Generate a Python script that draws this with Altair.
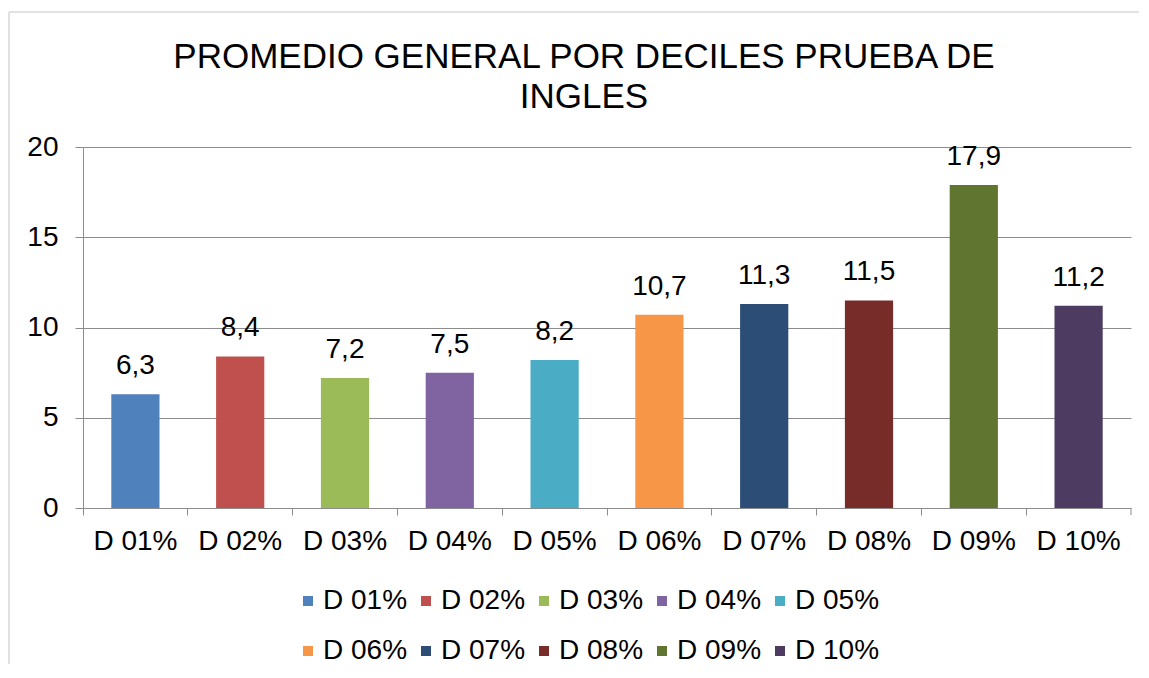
import altair as alt
import pandas as pd

categories = ["D 01%", "D 02%", "D 03%", "D 04%", "D 05%",
              "D 06%", "D 07%", "D 08%", "D 09%", "D 10%"]
values = [6.3, 8.4, 7.2, 7.5, 8.2, 10.7, 11.3, 11.5, 17.9, 11.2]
colors = ["#4F81BD", "#C0504D", "#9BBB59", "#8064A2", "#4BACC6",
          "#F79646", "#2C4D75", "#772C2A", "#5F7530", "#4D3B62"]
y_ticks = [0, 5, 10, 15, 20]

df = pd.DataFrame({"cat": categories, "val": values})
df["label"] = df["val"].map(lambda v: f"{v:.1f}".replace(".", ","))

FONT = "Liberation Sans"
GRAY = "#8c8c8c"

x_enc = alt.X("cat:N", sort=categories,
              scale=alt.Scale(paddingInner=0, paddingOuter=0),
              axis=alt.Axis(title=None, labelAngle=0, labelFontSize=28, labelFont=FONT,
                            labelColor="black", labelPadding=12, tickSize=7,
                            tickColor=GRAY, domainColor=GRAY, bandPosition=0,
                            grid=False))
y_enc = alt.Y("val:Q", scale=alt.Scale(domain=[0, 20], nice=False),
              axis=alt.Axis(title=None, values=y_ticks, labelFontSize=28, labelFont=FONT,
                            labelColor="black", labelPadding=17, tickSize=8,
                            tickColor=GRAY, domainColor=GRAY, gridColor=GRAY,
                            gridOpacity=1))

bars = alt.Chart(df).mark_bar(width={"band": 0.46}).encode(
    x=x_enc, y=y_enc,
    color=alt.Color("cat:N", sort=categories,
                    scale=alt.Scale(domain=categories, range=colors),
                    legend=alt.Legend(title=None, orient="none", legendX=211, legendY=440,
                                      direction="horizontal", columns=5,
                                      symbolType="square", symbolSize=100,
                                      symbolStrokeWidth=0,
                                      labelFontSize=28, labelFont=FONT, labelColor="black",
                                      labelOffset=1, columnPadding=4, rowPadding=22)),
)

text = alt.Chart(df).mark_text(font=FONT, fontSize=28, baseline="alphabetic", dy=-20,
                               color="black").encode(
    x=alt.X("cat:N", sort=categories), y="val:Q", text="label:N")

frame_data = alt.Data(values=[{"k": 1}])
left_border = alt.Chart(frame_data).mark_rule(color="#d9d9d9", strokeWidth=1.5).encode(
    x=alt.value(-74), y=alt.value(-135), y2=alt.value(540))
top_border = alt.Chart(frame_data).mark_rule(color="#d9d9d9", strokeWidth=1.5).encode(
    x=alt.value(-74), x2=alt.value(1070), y=alt.value(-135))
end_tick = alt.Chart(frame_data).mark_rule(color=GRAY, strokeWidth=1).encode(
    x=alt.value(1048), y=alt.value(361), y2=alt.value(368))

chart = alt.layer(left_border, top_border, bars, text, end_tick).properties(
    width=1048, height=361,
    title=alt.TitleParams(["PROMEDIO GENERAL POR DECILES PRUEBA DE", "INGLES"],
                          fontSize=35, font=FONT, fontWeight="normal", color="black",
                          lineHeight=40, anchor="middle", frame="group", dx=-23, offset=-104),
    autosize=alt.AutoSizeParams(type="none"),
    padding={"left": 75, "top": 139, "right": 8, "bottom": 156},
).configure_view(stroke=None).configure_axis(gridWidth=1, domainWidth=1, tickWidth=1)

chart.save("out.html", embed_options={"renderer": "svg", "actions": False})
